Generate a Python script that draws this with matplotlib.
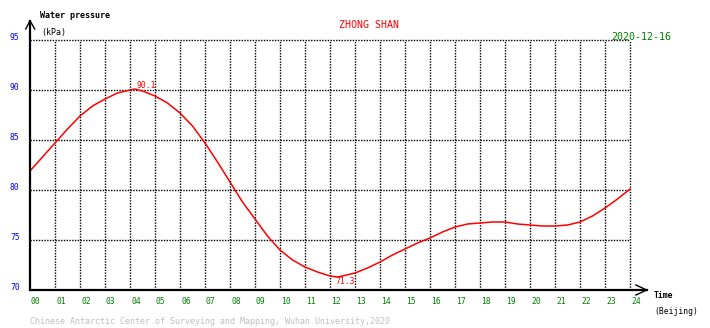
import numpy as np
import matplotlib
matplotlib.use("Agg")
import matplotlib.pyplot as plt

# Water pressure readings (hour of day, kPa)
hours = [0, 0.5, 1, 1.5, 2, 2.5, 3, 3.5, 4, 4.2, 4.5, 5, 5.5, 6, 6.5, 7, 7.5, 8,
         8.5, 9, 9.5, 10, 10.5, 11, 11.5, 12, 12.3, 12.5, 13, 13.5, 14, 14.5,
         15, 15.5, 16, 16.5, 17, 17.5, 18, 18.5, 19, 19.5, 20, 20.5, 21, 21.5,
         22, 22.5, 23, 23.5, 24]
pressure = [81.9, 83.3, 84.7, 86.1, 87.4, 88.4, 89.1, 89.7, 90.0, 90.1, 89.9, 89.4,
            88.7, 87.7, 86.4, 84.7, 82.8, 80.8, 78.8, 77.1, 75.4, 74.0, 73.0, 72.3,
            71.8, 71.4, 71.3, 71.4, 71.7, 72.2, 72.8, 73.5, 74.1, 74.7, 75.2, 75.8,
            76.3, 76.6, 76.7, 76.8, 76.8, 76.6, 76.5, 76.4, 76.4, 76.5, 76.8, 77.4,
            78.2, 79.1, 80.1]

ytick_vals = [70, 75, 80, 85, 90, 95]
xtick_labels = ["%02d" % h for h in range(25)]
station = "ZHONG SHAN"
date = "2020-12-16"
max_label = "90.1"
min_label = "71.3"

W, H = 710, 328
fig = plt.figure(figsize=(W / 100, H / 100), dpi=100)
fig.patch.set_facecolor("white")

def px(x, y):
    return x / W, 1 - y / H

x0, x1 = 30, 646.7
y0, y1 = 290, 20.7
ax = fig.add_axes([x0 / W, (H - y0) / H, (x1 - x0) / W, (y0 - y1) / H])
xmax = (x1 - x0) / 25.0
ymax = 70 + (y0 - y1) / 10.0
ax.set_xlim(0, xmax)
ax.set_ylim(70, ymax)
ax.set_xticks([])
ax.set_yticks([])
for s in ["top", "right"]:
    ax.spines[s].set_visible(False)
for s in ["left", "bottom"]:
    ax.spines[s].set_linewidth(1.6)

mono = "DejaVu Sans Mono"
dot = (0, (1, 1))

# dotted grid
for v in ytick_vals[1:]:
    ax.plot([0, 24], [v, v], color="black", lw=1, ls=dot)
for h in range(1, 25):
    ax.plot([h, h], [70, 95], color="black", lw=1, ls=dot)

# arrows
ax.plot([-0.17, 0, 0.19], [ymax - 0.83, ymax, ymax - 0.83], color="black", lw=1, clip_on=False)
ax.plot([xmax - 0.43, xmax, xmax - 0.43], [70.5, 70, 69.5], color="black", lw=1, clip_on=False)

# data
ax.plot(hours, pressure, color="red", lw=1.1)

# y labels
for v in ytick_vals:
    fig.text(*px(10, 290 - (v - 70) * 10 - 2), str(v), color="blue", fontsize=5.8,
             family=mono, ha="left", va="center")
# x labels
for i, lab in enumerate(xtick_labels):
    fig.text(*px(31 + i * 25, 302), lab, color="green", fontsize=5.8,
             family=mono, ha="left", va="center")

fig.text(*px(40, 16), "Water pressure", color="black", fontsize=6, family=mono,
         ha="left", va="center", weight="bold")
fig.text(*px(41, 33), "(kPa)", color="black", fontsize=6, family=mono,
         ha="left", va="center")
fig.text(*px(369, 25), station, color="red", fontsize=7.2, family=mono,
         ha="center", va="center")
fig.text(*px(641, 37), date, color="green", fontsize=7.2, family=mono,
         ha="center", va="center")
fig.text(*px(654, 295), "Time", color="black", fontsize=5.8, family=mono,
         ha="left", va="center", weight="bold")
fig.text(*px(654, 311), "(Beijing)", color="black", fontsize=5.8, family=mono,
         ha="left", va="center")
fig.text(*px(30, 321),
         "Chinese Antarctic Center of Surveying and Mapping, Wuhan University,2020",
         color="#c0c0c0", fontsize=6, family=mono, ha="left", va="center")
fig.text(*px(146, 85), max_label, color="red", fontsize=5.8, family=mono,
         ha="center", va="center")
fig.text(*px(345, 281), min_label, color="red", fontsize=5.8, family=mono,
         ha="center", va="center")

fig.savefig("out.png", dpi=100)
